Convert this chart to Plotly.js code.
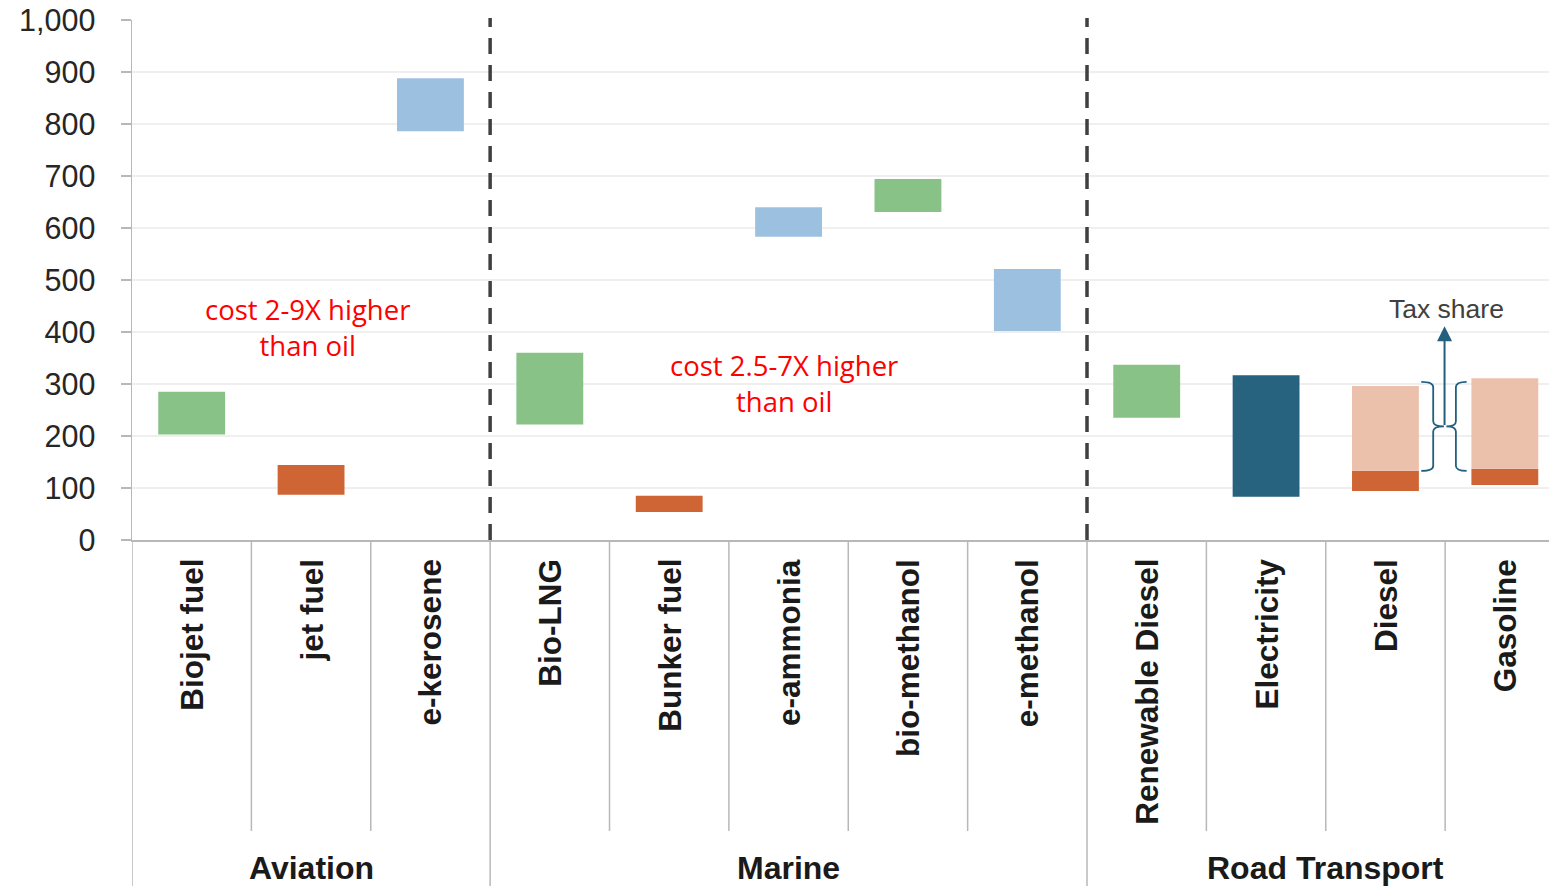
<!DOCTYPE html>
<html>
<head>
<meta charset="utf-8">
<script src="https://cdn.plot.ly/plotly-3.0.1.min.js"></script>
<style>
  html, body { margin: 0; padding: 0; background: #ffffff; }
  #chart { width: 1549px; height: 886px; }
</style>
</head>
<body>
<div id="chart"></div>
<script>
// Fuel cost ranges by transport segment (low / high end of each range)
const categories = ['Biojet fuel', 'jet fuel', 'e-kerosene',
  'Bio-LNG', 'Bunker fuel', 'e-ammonia', 'bio-methanol', 'e-methanol',
  'Renewable Diesel', 'Electricity', 'Diesel', 'Gasoline'];
const costLow  = [203, 87, 786, 222, 54, 583, 631, 402, 235, 83, 94, 106];
const costHigh = [285, 144, 888, 360, 85, 640, 694, 521, 337, 317, 133, 137];
const fuelType = ['bio', 'fossil', 'efuel', 'bio', 'fossil', 'efuel', 'bio', 'efuel',
  'bio', 'electric', 'fossil', 'fossil'];

// Tax share stacked on top of road fossil fuels
const taxCategories = ['Diesel', 'Gasoline'];
const taxTop = [296, 311];

// Segments (first and last category index of each group)
const groups = [
  {name: 'Aviation', first: 0, last: 2},
  {name: 'Marine', first: 3, last: 7},
  {name: 'Road Transport', first: 8, last: 11}
];

const typeColor = {
  bio: '#88C287',
  fossil: '#CF6434',
  efuel: '#9CC1E0',
  electric: '#27627F'
};
const taxColor = '#EBC1AC';
const accent = '#21607F';
const dividerColor = '#B8B8B8';
const BAR_W = 0.56;

const idx = categories.map((_, i) => i);

const traces = [
  {
    type: 'bar',
    x: idx,
    y: costHigh.map((h, i) => h - costLow[i]),
    base: costLow,
    width: BAR_W,
    marker: {color: fuelType.map(t => typeColor[t]), line: {width: 0}},
    hoverinfo: 'skip',
    showlegend: false
  },
  {
    type: 'bar',
    x: taxCategories.map(c => categories.indexOf(c)),
    y: taxCategories.map((c, k) => taxTop[k] - costHigh[categories.indexOf(c)]),
    base: taxCategories.map(c => costHigh[categories.indexOf(c)]),
    width: BAR_W,
    marker: {color: taxColor, line: {width: 0}},
    hoverinfo: 'skip',
    showlegend: false
  }
];

// Plot height in px, used to place things below the axis in paper units
const PLOT_H = 520;
const pxBelow = px => -px / PLOT_H;

const shapes = [];
const annotations = [];

// Category dividers under the axis: short between categories, long between segments
const groupEdges = new Set();
groups.forEach(g => { groupEdges.add(g.first - 0.5); groupEdges.add(g.last + 0.5); });
for (let i = 0; i < categories.length; i++) {
  const xe = i - 0.5;
  const longLine = groupEdges.has(xe);
  shapes.push({
    type: 'line', xref: 'x', yref: 'paper',
    x0: xe, x1: xe, y0: 0, y1: longLine ? pxBelow(346) : pxBelow(291),
    line: {color: dividerColor, width: 1.5}
  });
}

// Dashed separators between segments inside the plot
groups.slice(0, -1).forEach(g => {
  shapes.push({
    type: 'line', xref: 'x', yref: 'paper',
    x0: g.last + 0.5, x1: g.last + 0.5, y0: 0, y1: 1.004,
    line: {color: '#404040', width: 3.5, dash: '16px,11px'}
  });
});

// Curly braces around the tax share of diesel and gasoline
const braceLow = 133, braceHigh = 304, braceMid = (braceLow + braceHigh) / 2, braceR = 10;
function brace(xTip, xSpine, xMid) {
  return 'M' + xTip + ',' + braceHigh +
    ' Q' + xSpine + ',' + braceHigh + ' ' + xSpine + ',' + (braceHigh - braceR) +
    ' L' + xSpine + ',' + (braceMid + braceR) +
    ' Q' + xSpine + ',' + braceMid + ' ' + xMid + ',' + braceMid +
    ' Q' + xSpine + ',' + braceMid + ' ' + xSpine + ',' + (braceMid - braceR) +
    ' L' + xSpine + ',' + (braceLow + braceR) +
    ' Q' + xSpine + ',' + braceLow + ' ' + xTip + ',' + braceLow;
}
const taxGap = 10.5;
shapes.push({type: 'path', xref: 'x', yref: 'y',
  path: brace(taxGap - 0.2, taxGap - 0.1, taxGap - 0.01),
  line: {color: accent, width: 1.8}});
shapes.push({type: 'path', xref: 'x', yref: 'y',
  path: brace(taxGap + 0.18, taxGap + 0.09, taxGap + 0.01),
  line: {color: accent, width: 1.8}});

// Arrow pointing to the tax label
annotations.push({
  x: taxGap - 0.005, y: 411, xref: 'x', yref: 'y',
  ax: taxGap - 0.005, ay: braceMid, axref: 'x', ayref: 'y',
  text: '', showarrow: true, arrowhead: 2, arrowsize: 1.5, arrowwidth: 2,
  arrowcolor: accent, standoff: 0
});
annotations.push({
  x: taxGap + 0.01, y: 444, xref: 'x', yref: 'y',
  text: 'Tax share', showarrow: false,
  font: {family: 'Liberation Sans, Arial, sans-serif', size: 26.5, color: '#404040'}
});

// Cost comparison notes
const noteFont = {family: 'Open Sans, Lato, sans-serif', size: 27.5, color: '#FF0000'};
annotations.push({x: 0.97, y: 408, xref: 'x', yref: 'y', showarrow: false,
  text: 'cost 2-9X higher<br>than oil', font: noteFont});
annotations.push({x: 4.96, y: 301, xref: 'x', yref: 'y', showarrow: false,
  text: 'cost 2.5-7X higher<br>than oil', font: noteFont});

// Rotated category labels under the axis
categories.forEach((c, i) => {
  annotations.push({
    x: i, y: pxBelow(17), xref: 'x', yref: 'paper',
    xanchor: 'center', yanchor: 'top', textangle: -90,
    text: '<b>' + c + '</b>', showarrow: false,
    font: {family: 'Liberation Sans, Arial, sans-serif', size: 31.5, color: '#1A1A1A'}
  });
});

// Segment labels
groups.forEach(g => {
  annotations.push({
    x: (g.first + g.last) / 2, y: pxBelow(328), xref: 'x', yref: 'paper',
    xanchor: 'center', yanchor: 'middle',
    text: '<b>' + g.name + '</b>', showarrow: false,
    font: {family: 'Liberation Sans, Arial, sans-serif', size: 32, color: '#1A1A1A'}
  });
});

const layout = {
  width: 1549,
  height: 886,
  margin: {l: 132, r: 0, t: 20, b: 346, pad: 0},
  paper_bgcolor: '#ffffff',
  plot_bgcolor: '#ffffff',
  barmode: 'overlay',
  showlegend: false,
  xaxis: {
    range: [-0.5, 11.37],
    showticklabels: false,
    ticks: '',
    showgrid: false,
    zeroline: false,
    showline: true,
    linecolor: dividerColor,
    linewidth: 1.5,
    fixedrange: true
  },
  yaxis: {
    range: [0, 1000],
    dtick: 100,
    tick0: 0,
    tickformat: ',d',
    ticks: 'outside',
    ticklen: 10,
    tickwidth: 1.5,
    tickcolor: dividerColor,
    ticklabelstandoff: 19,
    tickfont: {family: 'Liberation Sans, Arial, sans-serif', size: 30.5, color: '#262626'},
    showgrid: true,
    gridcolor: '#EFEFEF',
    gridwidth: 1.5,
    zeroline: false,
    showline: true,
    linecolor: dividerColor,
    linewidth: 1.5,
    fixedrange: true
  },
  shapes: shapes,
  annotations: annotations
};

Plotly.newPlot('chart', traces, layout, {staticPlot: true, displayModeBar: false});
</script>
</body>
</html>
